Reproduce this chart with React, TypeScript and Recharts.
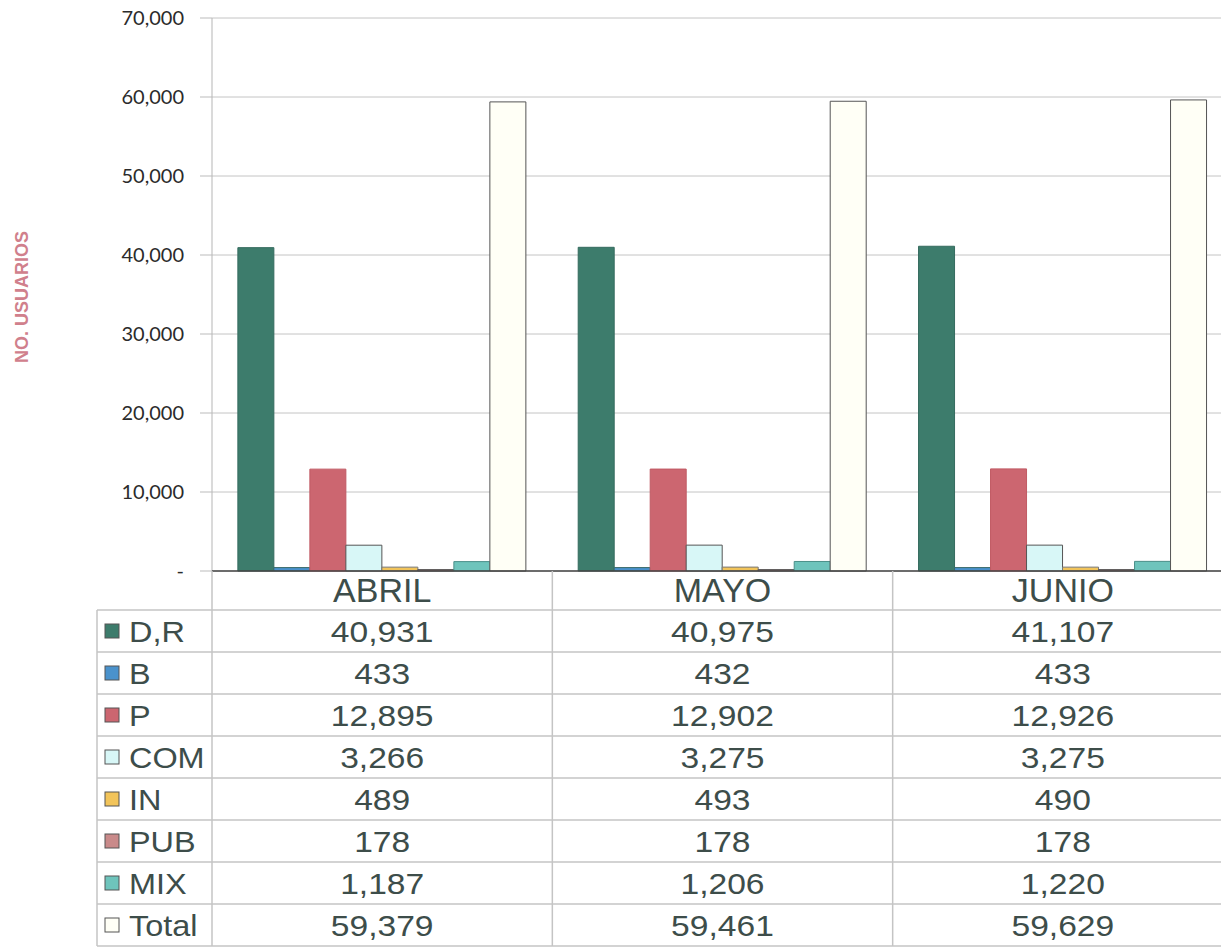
import React from 'react';
import { BarChart, Bar, XAxis, YAxis, CartesianGrid } from 'recharts';

const months = ['ABRIL', 'MAYO', 'JUNIO'];
const dr = [40931, 40975, 41107];
const b = [433, 432, 433];
const p = [12895, 12902, 12926];
const com = [3266, 3275, 3275];
const inn = [489, 493, 490];
const pub = [178, 178, 178];
const mix = [1187, 1206, 1220];
const total = [59379, 59461, 59629];
const yTicks = [0, 10000, 20000, 30000, 40000, 50000, 60000, 70000];

const series = [
  { key: 'dr', name: 'D,R', values: dr, fill: '#3d7c6c', stroke: '#356b5e' },
  { key: 'b', name: 'B', values: b, fill: '#4a92cc', stroke: '#3a6a6a' },
  { key: 'p', name: 'P', values: p, fill: '#cc6670', stroke: '#c05a64' },
  { key: 'com', name: 'COM', values: com, fill: '#d8f7f7', stroke: '#555' },
  { key: 'inn', name: 'IN', values: inn, fill: '#f2c45a', stroke: '#777' },
  { key: 'pub', name: 'PUB', values: pub, fill: '#c98a8a', stroke: '#555' },
  { key: 'mix', name: 'MIX', values: mix, fill: '#6ec4bc', stroke: '#4b8f89' },
  { key: 'total', name: 'Total', values: total, fill: '#fffff6', stroke: '#555' },
];

const data = months.map((month, i) => {
  const row: Record<string, string | number> = { month };
  series.forEach((s) => { row[s.key] = s.values[i]; });
  return row;
});

const W = 1240;
const H = 948;
const PLOT_LEFT = 212;
const PLOT_RIGHT = 1233;
const PLOT_TOP = 18;
const PLOT_BOTTOM = 571;
const BAND = (PLOT_RIGHT - PLOT_LEFT) / months.length;
const HEAD_Y = 590;
const ROW0 = 610;
const ROW_H = 42;
const TABLE_LEFT = 97;
const TEXT = '#3d4d4a';
const fmt = (v: number) => v.toLocaleString('en-US');

function TableColumn(props: any) {
  const { x, payload } = props;
  const i = payload.index;
  return (
    <g>
      <line x1={x - BAND / 2} x2={x - BAND / 2} y1={PLOT_BOTTOM} y2={ROW0 + ROW_H * series.length} stroke="#c4c4c4" strokeWidth={1.5} />
      <text x={x} y={HEAD_Y} textAnchor="middle" dominantBaseline="central" fontSize={34} fontFamily="Liberation Sans, Arial" fill={TEXT}>
        {payload.value}
      </text>
      {series.map((s, r) => (
        <text
          key={s.key}
          transform={`translate(${x},${ROW0 + ROW_H * r + ROW_H / 2 + 1}) scale(1.12,1)`}
          textAnchor="middle"
          dominantBaseline="central"
          fontSize={30}
          fontFamily="Liberation Sans, Arial"
          fill={TEXT}
        >
          {fmt(s.values[i])}
        </text>
      ))}
    </g>
  );
}

export default function App() {
  return (
    <div style={{ position: 'fixed', left: 0, top: 0, width: 1221, height: 948, overflow: 'hidden', background: '#fff' }}>
      <BarChart
        width={W}
        height={H}
        data={data}
        margin={{ top: PLOT_TOP, right: W - PLOT_RIGHT, left: 0, bottom: 0 }}
        barCategoryGap="7.6%"
        barGap={0}
      >
        <CartesianGrid horizontal vertical={false} stroke="#c4c4c4" />
        <YAxis
          width={PLOT_LEFT}
          domain={[0, 70000]}
          ticks={yTicks}
          tickFormatter={(v: number) => (v === 0 ? '-' : fmt(v))}
          tick={{ fill: '#2b2b2b', fontSize: 20, fontFamily: 'Lato' }}
          tickSize={12}
          tickMargin={16}
          tickLine={{ stroke: '#bbb' }}
          axisLine={{ stroke: '#b5b5b5' }}
        />
        <XAxis
          dataKey="month"
          height={H - PLOT_BOTTOM}
          interval={0}
          tickLine={false}
          axisLine={{ stroke: '#444', strokeWidth: 1.5 }}
          tick={(props: any) => <TableColumn {...props} />}
        />
        {series.map((s) => (
          <Bar key={s.key} dataKey={s.key} name={s.name} fill={s.fill} stroke={s.stroke} strokeWidth={1} isAnimationActive={false} />
        ))}
      </BarChart>
      <svg width={1221} height={948} style={{ position: 'absolute', left: 0, top: 0, pointerEvents: 'none' }}>
        <text
          transform="translate(22,297) rotate(-90)"
          textAnchor="middle"
          dominantBaseline="central"
          fontSize={18}
          fontWeight="bold"
          fontFamily="Liberation Sans, Arial"
          fill="#d0808c"
        >
          NO. USUARIOS
        </text>
        <line x1={TABLE_LEFT} x2={TABLE_LEFT} y1={ROW0} y2={ROW0 + ROW_H * series.length} stroke="#c4c4c4" strokeWidth={1.5} />
        {series.map((s, r) => (
          <line key={`h${s.key}`} x1={TABLE_LEFT} x2={1221} y1={ROW0 + ROW_H * r} y2={ROW0 + ROW_H * r} stroke="#c4c4c4" strokeWidth={1.5} />
        ))}
        <line x1={TABLE_LEFT} x2={1221} y1={ROW0 + ROW_H * series.length} y2={ROW0 + ROW_H * series.length} stroke="#c4c4c4" strokeWidth={1.5} />
        {series.map((s, r) => {
          const cy = ROW0 + ROW_H * r + ROW_H / 2;
          return (
            <g key={`l${s.key}`}>
              <rect x={105} y={cy - 7} width={14} height={14} fill={s.fill} stroke="#555" strokeWidth={1} />
              <text
                transform={`translate(129,${cy + 1}) scale(1.08,1)`}
                dominantBaseline="central"
                fontSize={30}
                fontFamily="Liberation Sans, Arial"
                fill={TEXT}
              >
                {s.name}
              </text>
            </g>
          );
        })}
      </svg>
    </div>
  );
}
